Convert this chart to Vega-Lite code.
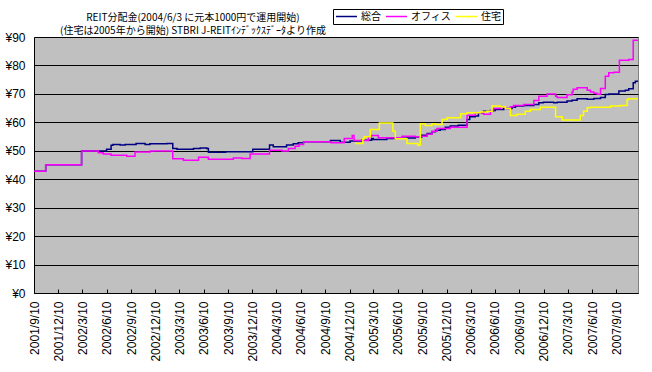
{
"$schema": "https://vega.github.io/schema/vega-lite/v6.json",
"width": 604, "height": 256,
"autosize": {"type": "none"},
"padding": {"left": 34, "top": 37, "right": 14, "bottom": 79},
"background": "white",
"config": {"view": {"fill": "#C0C0C0", "stroke": "#808080", "strokeWidth": 1}, "font": "Liberation Sans"},
"title": {"text": ["REIT分配金(2004/6/3 に元本1000円で運用開始)", "(住宅は2005年から開始) STBRI J-REITｲﾝﾃﾞｯｸｽﾃﾞｰﾀより作成"], "font": "Noto Sans CJK JP", "fontSize": 10, "fontWeight": "normal", "color": "black", "anchor": "middle", "frame": "group", "dx": -143, "offset": -27, "lineHeight": 12.5},
"data": {"values": [
{"s":"総合","d":"2001-09-10","v":42.8},
{"s":"総合","d":"2001-10-24","v":45.1},
{"s":"総合","d":"2002-03-08","v":49.9},
{"s":"総合","d":"2002-06-10","v":50.5},
{"s":"総合","d":"2002-06-27","v":51.9},
{"s":"総合","d":"2002-07-04","v":52.2},
{"s":"総合","d":"2002-07-31","v":52.0},
{"s":"総合","d":"2002-08-19","v":52.2},
{"s":"総合","d":"2002-09-29","v":52.6},
{"s":"総合","d":"2002-11-02","v":52.2},
{"s":"総合","d":"2002-11-20","v":52.5},
{"s":"総合","d":"2003-01-23","v":52.6},
{"s":"総合","d":"2003-02-14","v":50.8},
{"s":"総合","d":"2003-03-02","v":50.5},
{"s":"総合","d":"2003-05-03","v":50.8},
{"s":"総合","d":"2003-05-28","v":51.0},
{"s":"総合","d":"2003-06-22","v":50.8},
{"s":"総合","d":"2003-06-28","v":49.5},
{"s":"総合","d":"2003-09-01","v":49.7},
{"s":"総合","d":"2003-12-12","v":50.5},
{"s":"総合","d":"2004-02-13","v":52.0},
{"s":"総合","d":"2004-02-27","v":51.4},
{"s":"総合","d":"2004-04-17","v":52.0},
{"s":"総合","d":"2004-05-12","v":52.5},
{"s":"総合","d":"2004-05-31","v":52.8},
{"s":"総合","d":"2004-06-20","v":53.2},
{"s":"総合","d":"2004-09-29","v":53.6},
{"s":"総合","d":"2004-11-05","v":53.0},
{"s":"総合","d":"2004-12-12","v":53.4},
{"s":"総合","d":"2005-01-25","v":53.7},
{"s":"総合","d":"2005-03-03","v":54.3},
{"s":"総合","d":"2005-03-09","v":54.0},
{"s":"総合","d":"2005-04-29","v":54.3},
{"s":"総合","d":"2005-05-31","v":54.4},
{"s":"総合","d":"2005-07-14","v":54.5},
{"s":"総合","d":"2005-08-14","v":54.8},
{"s":"総合","d":"2005-09-08","v":55.5},
{"s":"総合","d":"2005-09-28","v":56.1},
{"s":"総合","d":"2005-10-16","v":56.7},
{"s":"総合","d":"2005-10-29","v":57.2},
{"s":"総合","d":"2005-11-16","v":57.5},
{"s":"総合","d":"2005-12-05","v":58.3},
{"s":"総合","d":"2005-12-24","v":58.7},
{"s":"総合","d":"2006-01-23","v":59.0},
{"s":"総合","d":"2006-02-25","v":61.0},
{"s":"総合","d":"2006-03-07","v":62.0},
{"s":"総合","d":"2006-03-28","v":62.2},
{"s":"総合","d":"2006-04-09","v":63.4},
{"s":"総合","d":"2006-04-28","v":63.9},
{"s":"総合","d":"2006-05-24","v":64.2},
{"s":"総合","d":"2006-06-11","v":64.5},
{"s":"総合","d":"2006-07-13","v":64.9},
{"s":"総合","d":"2006-08-13","v":65.3},
{"s":"総合","d":"2006-08-26","v":65.7},
{"s":"総合","d":"2006-09-26","v":65.9},
{"s":"総合","d":"2006-11-03","v":66.3},
{"s":"総合","d":"2006-11-22","v":66.9},
{"s":"総合","d":"2006-12-09","v":67.1},
{"s":"総合","d":"2007-01-17","v":66.9},
{"s":"総合","d":"2007-01-30","v":67.1},
{"s":"総合","d":"2007-03-08","v":67.5},
{"s":"総合","d":"2007-03-27","v":67.8},
{"s":"総合","d":"2007-04-15","v":68.3},
{"s":"総合","d":"2007-05-23","v":68.1},
{"s":"総合","d":"2007-06-17","v":68.4},
{"s":"総合","d":"2007-07-12","v":68.7},
{"s":"総合","d":"2007-07-30","v":69.8},
{"s":"総合","d":"2007-08-12","v":70.0},
{"s":"総合","d":"2007-09-19","v":71.0},
{"s":"総合","d":"2007-10-13","v":71.3},
{"s":"総合","d":"2007-10-26","v":71.8},
{"s":"総合","d":"2007-11-12","v":73.9},
{"s":"総合","d":"2007-11-20","v":74.4},
{"s":"総合","d":"2007-11-30","v":74.4},
{"s":"オフィス","d":"2001-09-10","v":42.8},
{"s":"オフィス","d":"2001-10-24","v":45.1},
{"s":"オフィス","d":"2002-03-08","v":49.9},
{"s":"オフィス","d":"2002-05-10","v":49.3},
{"s":"オフィス","d":"2002-05-28","v":48.9},
{"s":"オフィス","d":"2002-06-27","v":48.4},
{"s":"オフィス","d":"2002-08-25","v":48.1},
{"s":"オフィス","d":"2002-09-25","v":49.6},
{"s":"オフィス","d":"2002-11-21","v":49.9},
{"s":"オフィス","d":"2003-02-14","v":47.2},
{"s":"オフィス","d":"2003-03-26","v":46.7},
{"s":"オフィス","d":"2003-05-22","v":47.7},
{"s":"オフィス","d":"2003-06-28","v":47.0},
{"s":"オフィス","d":"2003-09-30","v":47.5},
{"s":"オフィス","d":"2003-11-01","v":47.3},
{"s":"オフィス","d":"2003-12-02","v":48.9},
{"s":"オフィス","d":"2004-02-13","v":50.2},
{"s":"オフィス","d":"2004-03-31","v":49.9},
{"s":"オフィス","d":"2004-04-24","v":50.8},
{"s":"オフィス","d":"2004-05-19","v":51.6},
{"s":"オフィス","d":"2004-06-03","v":52.2},
{"s":"オフィス","d":"2004-06-20","v":53.2},
{"s":"オフィス","d":"2004-10-01","v":52.8},
{"s":"オフィス","d":"2004-11-20","v":54.3},
{"s":"オフィス","d":"2004-12-20","v":55.4},
{"s":"オフィス","d":"2004-12-27","v":53.6},
{"s":"オフィス","d":"2005-02-19","v":54.9},
{"s":"オフィス","d":"2005-03-01","v":55.4},
{"s":"オフィス","d":"2005-03-28","v":54.6},
{"s":"オフィス","d":"2005-06-25","v":55.1},
{"s":"オフィス","d":"2005-08-14","v":54.9},
{"s":"オフィス","d":"2005-09-02","v":55.1},
{"s":"オフィス","d":"2005-09-28","v":55.8},
{"s":"オフィス","d":"2005-10-16","v":56.9},
{"s":"オフィス","d":"2005-11-04","v":57.8},
{"s":"オフィス","d":"2005-12-24","v":58.3},
{"s":"オフィス","d":"2006-02-25","v":62.5},
{"s":"オフィス","d":"2006-03-28","v":63.4},
{"s":"オフィス","d":"2006-04-28","v":62.8},
{"s":"オフィス","d":"2006-05-24","v":63.9},
{"s":"オフィス","d":"2006-06-04","v":64.9},
{"s":"オフィス","d":"2006-06-30","v":65.5},
{"s":"オフィス","d":"2006-07-19","v":64.9},
{"s":"オフィス","d":"2006-08-07","v":65.5},
{"s":"オフィス","d":"2006-08-19","v":65.9},
{"s":"オフィス","d":"2006-09-26","v":66.3},
{"s":"オフィス","d":"2006-11-03","v":67.7},
{"s":"オフィス","d":"2006-11-22","v":69.2},
{"s":"オフィス","d":"2006-12-23","v":70.0},
{"s":"オフィス","d":"2007-01-24","v":69.2},
{"s":"オフィス","d":"2007-01-30","v":68.7},
{"s":"オフィス","d":"2007-03-08","v":69.7},
{"s":"オフィス","d":"2007-03-27","v":70.7},
{"s":"オフィス","d":"2007-03-31","v":71.6},
{"s":"オフィス","d":"2007-04-15","v":72.2},
{"s":"オフィス","d":"2007-05-23","v":71.3},
{"s":"オフィス","d":"2007-06-04","v":70.7},
{"s":"オフィス","d":"2007-06-17","v":70.2},
{"s":"オフィス","d":"2007-06-29","v":69.9},
{"s":"オフィス","d":"2007-07-12","v":71.9},
{"s":"オフィス","d":"2007-07-30","v":76.2},
{"s":"オフィス","d":"2007-08-12","v":77.4},
{"s":"オフィス","d":"2007-08-31","v":77.6},
{"s":"オフィス","d":"2007-09-21","v":81.8},
{"s":"オフィス","d":"2007-10-26","v":82.1},
{"s":"オフィス","d":"2007-11-12","v":88.9},
{"s":"オフィス","d":"2007-11-30","v":88.9},
{"s":"住宅","d":"2004-12-30","v":52.6},
{"s":"住宅","d":"2005-01-29","v":54.2},
{"s":"住宅","d":"2005-02-03","v":54.9},
{"s":"住宅","d":"2005-02-26","v":57.5},
{"s":"住宅","d":"2005-04-01","v":59.8},
{"s":"住宅","d":"2005-05-22","v":56.9},
{"s":"住宅","d":"2005-05-31","v":54.2},
{"s":"住宅","d":"2005-07-14","v":52.6},
{"s":"住宅","d":"2005-08-24","v":51.9},
{"s":"住宅","d":"2005-08-30","v":52.1},
{"s":"住宅","d":"2005-09-02","v":59.5},
{"s":"住宅","d":"2005-09-21","v":58.9},
{"s":"住宅","d":"2005-10-16","v":59.5},
{"s":"住宅","d":"2005-10-29","v":59.2},
{"s":"住宅","d":"2005-11-23","v":61.0},
{"s":"住宅","d":"2005-12-12","v":61.6},
{"s":"住宅","d":"2006-02-01","v":63.0},
{"s":"住宅","d":"2006-02-25","v":63.4},
{"s":"住宅","d":"2006-04-15","v":63.6},
{"s":"住宅","d":"2006-05-11","v":63.9},
{"s":"住宅","d":"2006-05-30","v":65.7},
{"s":"住宅","d":"2006-06-30","v":65.5},
{"s":"住宅","d":"2006-07-19","v":64.9},
{"s":"住宅","d":"2006-08-07","v":62.4},
{"s":"住宅","d":"2006-09-01","v":62.8},
{"s":"住宅","d":"2006-10-02","v":63.9},
{"s":"住宅","d":"2006-10-21","v":64.5},
{"s":"住宅","d":"2006-11-28","v":65.3},
{"s":"住宅","d":"2007-01-24","v":62.0},
{"s":"住宅","d":"2007-02-18","v":60.8},
{"s":"住宅","d":"2007-04-27","v":62.4},
{"s":"住宅","d":"2007-05-09","v":63.9},
{"s":"住宅","d":"2007-05-23","v":65.1},
{"s":"住宅","d":"2007-06-04","v":65.3},
{"s":"住宅","d":"2007-08-19","v":65.7},
{"s":"住宅","d":"2007-09-25","v":65.9},
{"s":"住宅","d":"2007-10-20","v":68.0},
{"s":"住宅","d":"2007-10-26","v":68.3},
{"s":"住宅","d":"2007-11-30","v":68.3}
]},
"mark": {"type": "line", "interpolate": "step-after", "strokeWidth": 1.5},
"encoding": {
"x": {"field": "d", "type": "temporal",
 "scale": {"type": "utc", "domain": [{"year":2001,"month":9,"date":10,"utc":true},{"year":2007,"month":11,"date":30,"utc":true}]},
 "axis": {"title": null, "labelExpr": "utcFormat(datum.value, '%Y/%-m/%-d')", "labelAngle": -90, "labelFontSize": 12, "labelColor": "black", "tickColor": "black", "tickSize": -4, "labelPadding": 12, "domainColor": "black", "grid": false, "labelOverlap": false, "labelFlush": false, "labelBound": false,
  "values": [
   {"year":2001,"month":9,"date":10,"utc":true},{"year":2001,"month":12,"date":10,"utc":true},
   {"year":2002,"month":3,"date":10,"utc":true},{"year":2002,"month":6,"date":10,"utc":true},{"year":2002,"month":9,"date":10,"utc":true},{"year":2002,"month":12,"date":10,"utc":true},
   {"year":2003,"month":3,"date":10,"utc":true},{"year":2003,"month":6,"date":10,"utc":true},{"year":2003,"month":9,"date":10,"utc":true},{"year":2003,"month":12,"date":10,"utc":true},
   {"year":2004,"month":3,"date":10,"utc":true},{"year":2004,"month":6,"date":10,"utc":true},{"year":2004,"month":9,"date":10,"utc":true},{"year":2004,"month":12,"date":10,"utc":true},
   {"year":2005,"month":3,"date":10,"utc":true},{"year":2005,"month":6,"date":10,"utc":true},{"year":2005,"month":9,"date":10,"utc":true},{"year":2005,"month":12,"date":10,"utc":true},
   {"year":2006,"month":3,"date":10,"utc":true},{"year":2006,"month":6,"date":10,"utc":true},{"year":2006,"month":9,"date":10,"utc":true},{"year":2006,"month":12,"date":10,"utc":true},
   {"year":2007,"month":3,"date":10,"utc":true},{"year":2007,"month":6,"date":10,"utc":true},{"year":2007,"month":9,"date":10,"utc":true}
  ]}},
"y": {"field": "v", "type": "quantitative", "scale": {"domain": [0, 90]},
 "axis": {"title": null, "values": [0,10,20,30,40,50,60,70,80,90], "labelExpr": "'¥' + datum.value", "grid": true, "gridColor": "black", "gridOpacity": 1, "gridWidth": 1, "ticks": false, "labelPadding": 9, "labelFontSize": 12, "labelColor": "black", "domainColor": "black"}},
"color": {"field": "s", "type": "nominal", "sort": null,
 "scale": {"domain": ["総合", "オフィス", "住宅"], "range": ["#000080", "#FF00FF", "#FFFF00"]},
 "legend": {"title": null, "orient": "none", "legendX": 299, "legendY": -28, "direction": "horizontal", "symbolType": "stroke", "symbolSize": 441, "symbolStrokeWidth": 1.5, "clipHeight": 11, "labelFont": "Noto Sans CJK JP", "labelFontSize": 10, "labelColor": "black", "strokeColor": "black", "fillColor": "white", "padding": 2, "columnPadding": 4, "labelOffset": 3}}
}
}
